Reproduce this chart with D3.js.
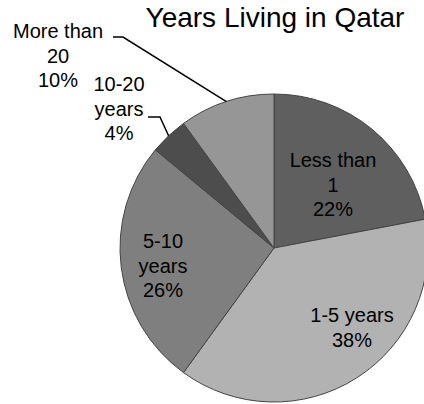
<!DOCTYPE html>
<html>
<head>
<meta charset="utf-8">
<script src="https://cdn.jsdelivr.net/npm/d3@7"></script>
<style>
  html, body { margin: 0; padding: 0; background: #fff; }
  svg { display: block; }
  text { font-family: "Liberation Sans", Arial, sans-serif; fill: #000; }
</style>
</head>
<body>
<svg id="chart" width="424" height="404"></svg>
<script>
const categories = ["Less than 1", "1-5 years", "5-10 years", "10-20 years", "More than 20"];
const values = [22, 38, 26, 4, 10];
const labelLines = [
  ["Less than", "1", "22%"],
  ["1-5 years", "38%"],
  ["5-10", "years", "26%"],
  ["10-20", "years", "4%"],
  ["More than", "20", "10%"]
];
const colors = ["#5f5f5f", "#b2b2b2", "#7f7f7f", "#4d4d4d", "#969696"];

const svg = d3.select("#chart");
const cx = 274, cy = 248, r = 154;

const pie = d3.pie().sort(null).value(d => d)(values);
const arc = d3.arc().innerRadius(0).outerRadius(r);

const g = svg.append("g").attr("transform", `translate(${cx},${cy})`);
g.selectAll("path").data(pie).enter().append("path")
  .attr("d", arc)
  .attr("fill", (d, i) => colors[i])
  .attr("stroke", "#444")
  .attr("stroke-width", 1);

svg.append("text")
  .attr("x", 275).attr("y", 27)
  .attr("text-anchor", "middle")
  .style("font-size", "28px")
  .text("Years Living in Qatar");

// label placement (center x, first baseline y) relative to the chart
const labelPos = [
  [333, 167],
  [352, 322],
  [163, 248],
  [119, 91],
  [58, 38]
];
const lineH = 24.5;
labelLines.forEach((lines, i) => {
  const t = svg.append("text")
    .attr("text-anchor", "middle")
    .style("font-size", "20px");
  lines.forEach((ln, k) => {
    t.append("tspan").attr("x", labelPos[i][0]).attr("y", labelPos[i][1] + k * lineH).text(ln);
  });
});

// leader lines to slice midpoints
const outerPt = d => {
  const a = (d.startAngle + d.endAngle) / 2;
  return [cx + r * Math.sin(a), cy - r * Math.cos(a)];
};
const leaders = [
  { i: 4, start: [113, 37], elbow: [123, 37] },
  { i: 3, start: [148, 117], elbow: [160, 117] }
];
leaders.forEach(L => {
  const p = outerPt(pie[L.i]);
  svg.append("polyline")
    .attr("points", [L.start, L.elbow, p].map(q => q.join(",")).join(" "))
    .attr("fill", "none")
    .attr("stroke", "#000")
    .attr("stroke-width", 1.5);
});
</script>
</body>
</html>
